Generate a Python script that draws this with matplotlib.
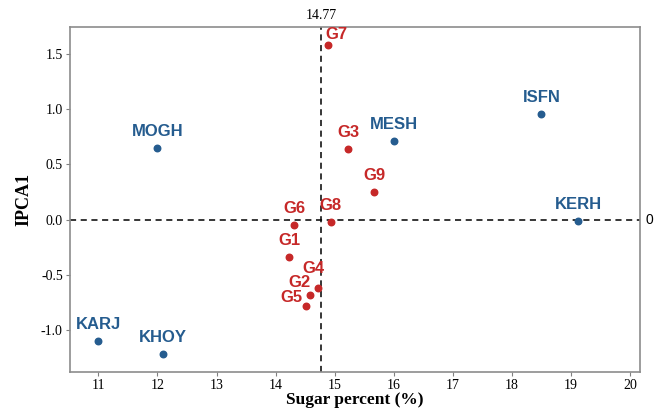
import matplotlib.pyplot as plt

# Genotype means (sugar %) and IPCA1 scores.
genotypes = ['G1', 'G2', 'G3', 'G4', 'G5', 'G6', 'G7', 'G8', 'G9']
geno_sugar = [14.23, 14.59, 15.23, 14.72, 14.52, 14.32, 14.89, 14.93, 15.67]
geno_ipca = [-0.34, -0.68, 0.64, -0.62, -0.78, -0.05, 1.58, -0.02, 0.25]

environments = ['MOGH', 'MESH', 'ISFN', 'KERH', 'KARJ', 'KHOY']
env_sugar = [12.0, 16.01, 18.5, 19.12, 11.0, 12.1]
env_ipca = [0.65, 0.71, 0.955, -0.01, -1.10, -1.22]

grand_mean = 14.77

# Label offsets in points (dx, dy)
geno_offsets = {'G7': (6, 8), 'G4': (-3, 14), 'G2': (-8, 9), 'G5': (-11, 6)}

red = '#c62828'
blue = '#255c8f'
serif = ['Liberation Serif', 'DejaVu Serif']
sans = ['Liberation Sans', 'DejaVu Sans']

fig = plt.figure(figsize=(6.59, 4.11), dpi=100)
ax = fig.add_axes([0.1058, 0.0949, 0.8654, 0.8387])

ax.axvline(grand_mean, color='black', lw=1.1, ls=(0, (4, 3)), zorder=1)
ax.axhline(0, color='black', lw=1.1, ls=(0, (4, 3)), zorder=1)

ax.scatter(geno_sugar, geno_ipca, s=22, color=red, zorder=3)
ax.scatter(env_sugar, env_ipca, s=22, color=blue, zorder=3)

for name, x, y in zip(genotypes, geno_sugar, geno_ipca):
    dx, dy = geno_offsets.get(name, (0, 12))
    ax.annotate(name, (x, y), xytext=(dx, dy), textcoords='offset points',
                ha='center', va='center', color=red, fontsize=12,
                fontweight='bold', family=sans)
for name, x, y in zip(environments, env_sugar, env_ipca):
    ax.annotate(name, (x, y), xytext=(0, 12), textcoords='offset points',
                ha='center', va='center', color=blue, fontsize=12,
                fontweight='bold', family=sans)

ax.set_xlim(10.515, 20.17)
ax.set_ylim(-1.38, 1.742)
ax.set_xticks(range(11, 21))
ax.set_yticks([-1.0, -0.5, 0.0, 0.5, 1.0, 1.5])
ax.set_yticklabels(['-1.0', '-0.5', '0.0', '0.5', '1.0', '1.5'])

for lab in ax.get_xticklabels() + ax.get_yticklabels():
    lab.set_family(serif)
    lab.set_fontsize(10)
ax.tick_params(length=3, color='#808080', pad=2)
for sp in ax.spines.values():
    sp.set_color('#8c8c8c')
    sp.set_linewidth(1.2)

ax.set_xlabel('Sugar percent (%)', family=serif, fontsize=12.5, fontweight='bold', labelpad=0)
ax.set_ylabel('IPCA1', family=serif, fontsize=13, fontweight='bold', labelpad=6)

ax.annotate('14.77', (grand_mean, 1.0), xycoords=ax.get_xaxis_transform(),
            xytext=(0, 4), textcoords='offset points',
            ha='center', va='bottom', family=serif, fontsize=10)
ax.annotate('0', (1.0, 0), xycoords=ax.get_yaxis_transform(),
            xytext=(4, 0), textcoords='offset points',
            ha='left', va='center', family=sans, fontsize=10)

fig.savefig('out.png', dpi=100)
